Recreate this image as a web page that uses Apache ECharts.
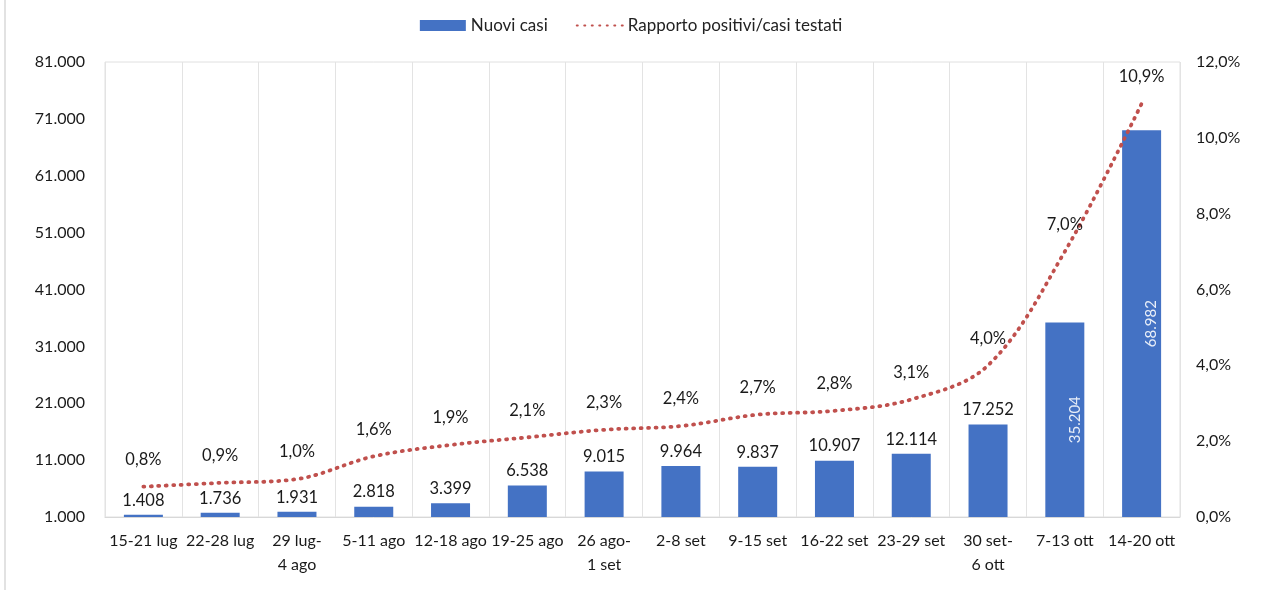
<!DOCTYPE html>
<html>
<head>
<meta charset="utf-8">
<script src="https://cdn.jsdelivr.net/npm/echarts@6/dist/echarts.min.js"></script>
<style>
html,body{margin:0;padding:0;background:#fff;}
#chart{width:1262px;height:590px;}
</style>
</head>
<body>
<div id="chart"></div>
<script>
const categories = ['15-21 lug','22-28 lug','29 lug-\n4 ago','5-11 ago','12-18 ago','19-25 ago','26 ago-\n1 set','2-8 set','9-15 set','16-22 set','23-29 set','30 set-\n6 ott','7-13 ott','14-20 ott'];
const newCases = [1408,1736,1931,2818,3399,6538,9015,9964,9837,10907,12114,17252,35204,68982];
const positivity = [0.8,0.9,1.0,1.6,1.9,2.1,2.3,2.4,2.7,2.8,3.1,4.0,7.0,10.9];
const leftTicks = {min:1000,max:81000,interval:10000};
const rightTicks = {min:0,max:12,interval:2};

const FONT = 'Lato';
function fmtInt(v){ return String(Math.round(v)).replace(/\B(?=(\d{3})+(?!\d))/g,'.'); }
function fmtPct(v){ return v.toFixed(1).replace('.',',') + '%'; }

const barData = newCases.map((v,i)=>{
  if (v > 30000) {
    return {value:v, label:{show:true, position:'inside', rotate:90, offset:[0,10], color:'#e8eef8', formatter:p=>fmtInt(p.value), fontSize:15}};
  }
  return v;
});

const chart = echarts.init(document.getElementById('chart'));
chart.setOption({
  backgroundColor:'#fff',
  textStyle:{fontFamily:FONT},
  animation:false,
  graphic:[{type:'line', shape:{x1:5,y1:0,x2:5,y2:590}, style:{stroke:'#e2e2e2', lineWidth:2}}],
  legend:{
    top:12, left:'center', itemGap:28, itemWidth:46, itemHeight:11,
    textStyle:{fontFamily:FONT, fontSize:17, color:'#222'},
    data:[{name:'Nuovi casi', icon:'rect'}, {name:'Rapporto positivi/casi testati', itemStyle:{opacity:0}}]
  },
  grid:{left:105, right:82, top:62, bottom:73, show:true, borderColor:'#e0e0e0', borderWidth:1, containLabel:false},
  xAxis:{
    type:'category', data:categories,
    axisLine:{show:true, lineStyle:{color:'#d8d8d8'}},
    axisTick:{show:false},
    splitLine:{show:true, lineStyle:{color:'#e3e3e3', width:1}},
    axisLabel:{fontFamily:FONT, fontSize:16, color:'#1a1a1a', margin:12, lineHeight:24, interval:0}
  },
  yAxis:[{
    type:'value', min:leftTicks.min, max:leftTicks.max, interval:leftTicks.interval,
    axisLine:{show:false}, axisTick:{show:false}, splitLine:{show:false},
    axisLabel:{fontFamily:FONT, fontSize:16, color:'#1a1a1a', margin:20, formatter:v=>fmtInt(v)}
  },{
    type:'value', min:rightTicks.min, max:rightTicks.max, interval:rightTicks.interval,
    axisLine:{show:false}, axisTick:{show:false}, splitLine:{show:false},
    axisLabel:{fontFamily:FONT, fontSize:16, color:'#1a1a1a', margin:16, formatter:v=>fmtPct(v)}
  }],
  series:[{
    name:'Nuovi casi', type:'bar', yAxisIndex:0, data:barData, barWidth:39,
    itemStyle:{color:'#4472C4'},
    label:{show:true, position:'top', distance:6, fontFamily:FONT, fontSize:16.5, color:'#1a1a1a', formatter:p=>fmtInt(p.value)}
  },{
    name:'Rapporto positivi/casi testati', type:'line', yAxisIndex:1, data:positivity,
    smooth:0.35, symbol:'circle', symbolSize:1, showSymbol:true,
    lineStyle:{color:'#C0504D', width:3.8, type:[1,6.5], cap:'round'},
    itemStyle:{color:'#C0504D', opacity:0},
    label:{show:true, position:'top', distance:18, fontFamily:FONT, fontSize:16.5, color:'#1a1a1a', opacity:1, formatter:p=>fmtPct(p.value)},
    z:5
  }]
});
</script>
</body>
</html>
